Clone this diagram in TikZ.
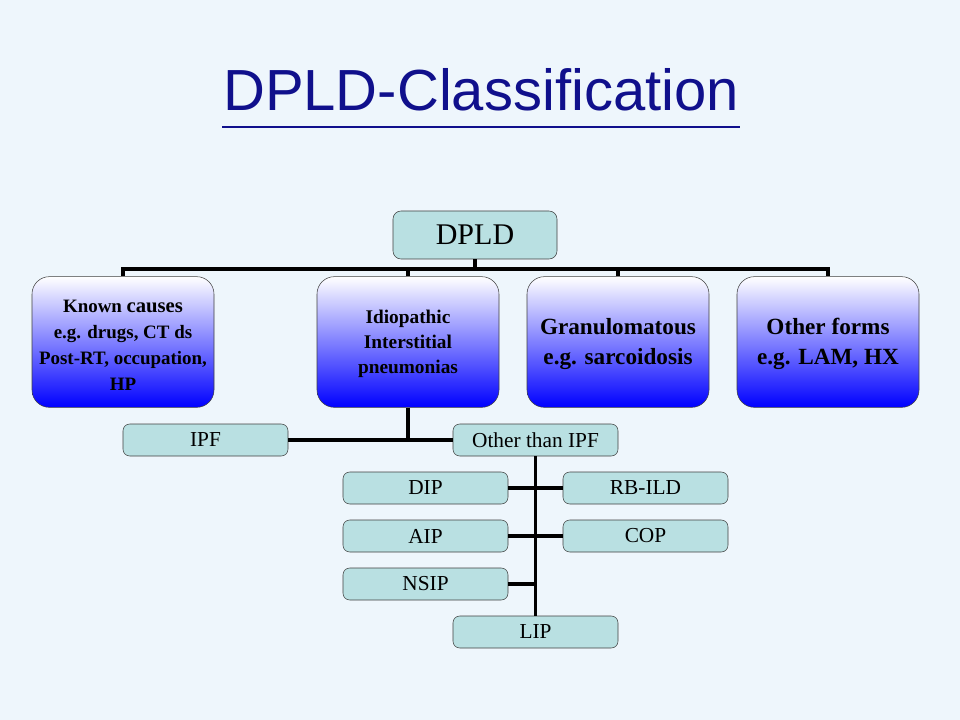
\documentclass[tikz,border=0pt]{standalone}
\usepackage{fontspec}
\setmainfont{Liberation Serif}
\newfontfamily\titlefont{Liberation Sans}
\usepackage{xcolor}
\usetikzlibrary{positioning}

\definecolor{slidebg}{RGB}{238,246,252}
\definecolor{titleblue}{RGB}{16,16,140}
\definecolor{boxteal}{RGB}{185,224,226}
\definecolor{midlav}{RGB}{205,205,248}

\begin{document}
\begin{tikzpicture}[x=0.75pt,y=-0.75pt,
    line/.style={line width=2.7pt},
    leaf/.style={draw=black!75,fill=boxteal,rounded corners=5pt,
      minimum width=123.75pt,minimum height=24pt,inner sep=0pt,
      font=\fontsize{16}{18}\selectfont},
    group/.style={draw=black!75,rounded corners=13pt,
      top color=white,middle color=midlav,bottom color=blue,
      minimum width=136.5pt,minimum height=98pt,inner sep=0pt,
      align=center,font=\bfseries}]
  % background and title
  \fill[slidebg] (0,0) rectangle (960,720);
  \node[text=titleblue,font=\titlefont\fontsize{43.5}{48}\selectfont]
    (title) at (481,90) {DPLD-Classification};
  \draw[titleblue,line width=2pt] (222,127) -- (740,127);

  % top level
  \node[leaf,minimum width=123pt,minimum height=36pt,rounded corners=6pt,
    font=\fontsize{22.5}{26}\selectfont] (dpld) at (475,235) {DPLD};

  \node[group,font=\bfseries\fontsize{14.2}{19.5}\selectfont] (known) at (123,342)
    {\strut Known {\fontsize{15.5}{19.5}\selectfont causes}\\e.g. drugs, CT ds\\Post-RT, occupation,\\HP};
  \node[group,font=\bfseries\fontsize{14.5}{18.5}\selectfont] (iip) at (408,342)
    {\strut Idiopathic\\Interstitial\\pneumonias};
  \node[group,font=\bfseries\fontsize{17.4}{22.5}\selectfont] (gran) at (618,342)
    {\strut Granulomatous\\e.g. sarcoidosis};
  \node[group,font=\bfseries\fontsize{17.4}{22.5}\selectfont] (other) at (828,342)
    {\strut Other forms\\e.g. LAM, HX};

  \coordinate (bar) at (475,269);
  \draw[line] (dpld.south) -- (bar);
  \draw[line] (known.north) |- (bar) -| (other.north);
  \draw[line] (iip.north) -- (iip.north |- bar);
  \draw[line] (gran.north) -- (gran.north |- bar);

  % idiopathic branch
  \node[leaf] (ipf) at (205.5,440) {IPF};
  \node[leaf] (nonipf) at (535.5,440) {Other than IPF};
  \draw[line] (ipf.east) -- (nonipf.west);
  \draw[line] (iip.south) -- (iip.south |- ipf.east);

  \node[leaf] (dip) at (425.5,488) {DIP};
  \node[leaf] (rbild) at (645.5,488) {RB-ILD};
  \node[leaf] (aip) at (425.5,536) {AIP};
  \node[leaf] (cop) at (645.5,536) {COP};
  \node[leaf] (nsip) at (425.5,584) {NSIP};
  \node[leaf] (lip) at (535.5,632) {LIP};

  \draw[line] (nonipf.south) -- (lip.north);
  \draw[line] (dip.east) -- (rbild.west);
  \draw[line] (aip.east) -- (cop.west);
  \draw[line] (nsip.east) -- (nsip.east -| lip.north);
\end{tikzpicture}
\end{document}
